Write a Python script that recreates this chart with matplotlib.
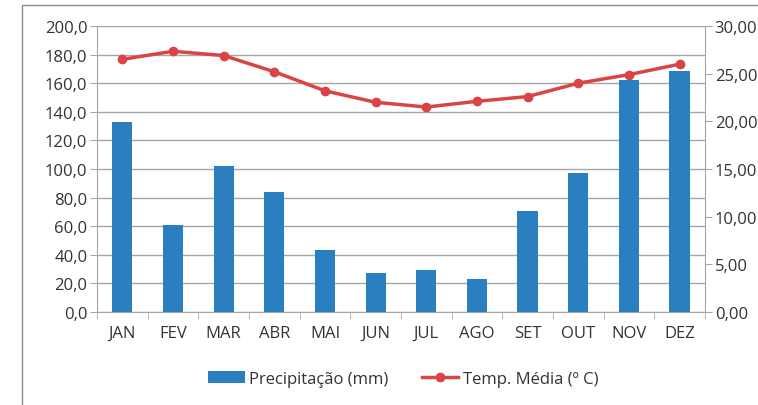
import matplotlib.pyplot as plt
import matplotlib.patches as mpatches
import numpy as np

# Data
meses = ['JAN', 'FEV', 'MAR', 'ABR', 'MAI', 'JUN', 'JUL', 'AGO', 'SET', 'OUT', 'NOV', 'DEZ']
precipitacao = [133.1, 61.0, 102.3, 83.9, 43.6, 27.3, 29.1, 23.1, 70.4, 97.4, 162.2, 168.5]
temperatura = [26.5, 27.35, 26.9, 25.2, 23.2, 22.0, 21.5, 22.1, 22.6, 24.0, 24.9, 26.0]

plt.rcParams['font.family'] = ['Open Sans', 'DejaVu Sans']

bar_color = '#2a7fc1'
line_color = '#d94545'
grid_color = '#a6a6a6'
text_color = '#333333'
fs = 12

fig = plt.figure(figsize=(7.58, 4.06), dpi=100)
ax = fig.add_axes([0.128, 0.229, 0.802, 0.7045])
ax2 = ax.twinx()

x = np.arange(len(meses))
bars = ax.bar(x, precipitacao, width=0.4, color=bar_color, zorder=3)
line, = ax2.plot(x, temperatura, color=line_color, lw=2.5, marker='o', ms=6, zorder=4)

# left axis
ax.set_ylim(0, 200)
ax.set_yticks(np.arange(0, 201, 20))
ax.set_yticklabels([f'{v:.1f}'.replace('.', ',') for v in np.arange(0, 201, 20)])
ax.yaxis.grid(True, color=grid_color, lw=1)
ax.set_axisbelow(True)
ax.set_xlim(-0.5, 11.5)
ax.set_xticks(x)
ax.set_xticklabels(meses)
ax.set_xticks(np.arange(-0.5, 12, 1), minor=True)
ax.tick_params(axis='x', which='major', length=0, pad=9, labelsize=fs, colors=text_color)
ax.tick_params(axis='x', which='minor', length=5, color=grid_color)
ax.tick_params(axis='y', length=5, color=grid_color, labelsize=fs, labelcolor=text_color, pad=2)

# right axis
ax2.set_ylim(0, 30)
ax2.set_yticks(np.arange(0, 31, 5))
ax2.set_yticklabels([f'{v:.2f}'.replace('.', ',') for v in np.arange(0, 31, 5)])
ax2.tick_params(axis='y', length=5, color=grid_color, labelsize=fs, labelcolor=text_color, pad=2)

for a in (ax, ax2):
    for s in a.spines.values():
        s.set_visible(False)
ax.spines['left'].set_visible(True)
ax.spines['left'].set_color(grid_color)
ax.spines['bottom'].set_visible(True)
ax.spines['bottom'].set_color(grid_color)
ax2.spines['right'].set_visible(True)
ax2.spines['right'].set_color(grid_color)

# outer chart frame (right and bottom edges fall outside the image)
frame = mpatches.Rectangle((22 / 758, -0.1), 1.0, 1 - 6 / 406 + 0.1,
                           transform=fig.transFigure, fill=False,
                           edgecolor='#8c8c8c', lw=1)
fig.patches.append(frame)

leg = fig.legend([bars, line], ['Precipitação (mm)', 'Temp. Média (º C)'],
                 loc='center', bbox_to_anchor=(0.532, 0.064), ncol=2,
                 frameon=False, fontsize=fs, handlelength=2.2,
                 columnspacing=2.0, handletextpad=0.25)
for t in leg.get_texts():
    t.set_color(text_color)

fig.savefig('out.png', dpi=100)
